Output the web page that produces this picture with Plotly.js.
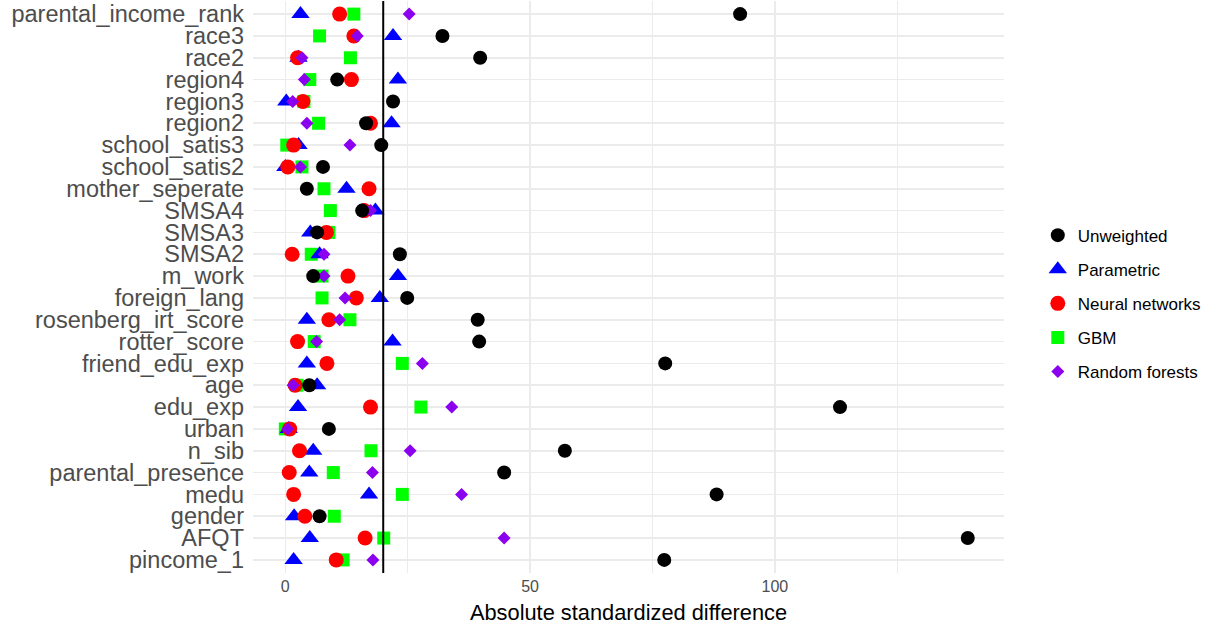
<!DOCTYPE html>
<html>
<head>
<meta charset="utf-8">
<script src="https://cdn.plot.ly/plotly-3.0.1.min.js"></script>
<style>html,body{margin:0;padding:0;background:#fff;}#chart{width:1212px;height:628px;}</style>
</head>
<body>
<div id="chart"></div>
<script>
const covariates = ["parental_income_rank","race3","race2","region4","region3","region2","school_satis3","school_satis2","mother_seperate","SMSA4","SMSA3","SMSA2","m_work","foreign_lang","rosenberg_irt_score","rotter_score","friend_edu_exp","age","edu_exp","urban","n_sib","parental_presence","medu","gender","AFQT","pincome_1"];
const unweighted = [92.9,32.1,39.8,10.6,22.0,16.5,19.6,7.7,4.4,15.7,6.5,23.4,5.7,24.9,39.3,39.6,77.6,4.9,113.3,8.9,57.1,44.7,88.1,7.0,139.4,77.4];
const parametric = [3.1,22.0,2.7,23.0,0.2,21.7,2.7,0.0,12.5,18.4,5.1,7.0,23.0,19.3,4.4,21.9,4.4,6.5,2.6,0.7,5.7,4.9,17.1,1.8,5.0,1.7];
const neuralNetworks = [11.1,14.0,2.5,13.5,3.6,17.4,1.7,0.5,17.1,16.1,8.4,1.4,12.8,14.5,8.9,2.5,8.5,2.0,17.4,0.9,2.9,0.8,1.7,4.0,16.3,10.4];
const gbm = [14.0,7.0,13.3,5.0,3.8,6.8,0.3,3.4,7.9,9.2,8.9,5.3,7.5,7.5,13.2,5.9,23.9,2.4,27.7,0.0,17.5,9.8,23.9,10.0,20.1,11.8];
const randomForests = [25.3,14.7,3.4,3.9,1.5,4.4,13.2,3.1,4.4,17.4,6.5,7.9,7.9,12.2,11.1,6.4,28.0,1.6,34.0,0.5,25.5,17.8,36.0,7.0,44.7,17.9];
const thresholdLine = 20;
const xTickVals = [0,50,100];

const FONT = "Liberation Sans, Arial, sans-serif";
function mk(name, xs, color, symbol, size, rank){
  return {type:'scatter', mode:'markers', name:name, x:xs, y:covariates,
    legendrank:rank, legendgroup:name,
    marker:{color:color, symbol:symbol, size:size, line:{width:0}},
    hoverinfo:'x+y+name'};
}
const traces = [
  mk('GBM', gbm, '#00FF00', 'square', 13, 4),
  mk('Parametric', parametric, '#0000FF', 'triangle-up', 16, 2),
  mk('Neural networks', neuralNetworks, '#FF0000', 'circle', 15, 3),
  mk('Random forests', randomForests, '#8C00F0', 'diamond', 10, 5),
  mk('Unweighted', unweighted, '#000000', 'circle', 14, 1)
];
const layout = {
  width:1212, height:628,
  margin:{l:253, r:208, t:1, b:55},
  paper_bgcolor:'#fff', plot_bgcolor:'#fff',
  font:{family:FONT, color:'#000'},
  showlegend:true,
  legend:{x:1.045, xanchor:'left', y:0.471, yanchor:'middle', tracegroupgap:9,
    font:{family:FONT, size:17, color:'#000'}, bgcolor:'rgba(0,0,0,0)'},
  xaxis:{range:[-6.6,146.8], tickmode:'array', tickvals:xTickVals, ticktext:xTickVals.map(String),
    showgrid:true, gridcolor:'#ebebeb', gridwidth:1.6, zeroline:false, showline:false, ticks:'',
    ticklabelstandoff:2,
    tickfont:{family:FONT, size:16, color:'#4d4d4d'},
    minor:{tickvals:[25,75,125], showgrid:true, gridcolor:'#ebebeb', gridwidth:1.1, ticks:''},
    title:{text:'Absolute standardized difference', font:{family:FONT, size:21.8, color:'#000'}, standoff:10},
    automargin:false, fixedrange:true},
  yaxis:{type:'category', categoryorder:'array', categoryarray:covariates, range:[25.6,-0.6],
    tickmode:'array', tickvals:covariates, ticktext:covariates,
    showgrid:true, gridcolor:'#ebebeb', gridwidth:1.6, zeroline:false, showline:false, ticks:'',
    ticklabelstandoff:8,
    tickfont:{family:FONT, size:23.5, color:'#4d4d4d'}, automargin:false, fixedrange:true},
  shapes:[{type:'line', xref:'x', yref:'paper', x0:thresholdLine, x1:thresholdLine, y0:0, y1:1,
    line:{color:'#000', width:2}, layer:'above'}]
};
Plotly.newPlot('chart', traces, layout, {displayModeBar:false, staticPlot:true});
</script>
</body>
</html>
